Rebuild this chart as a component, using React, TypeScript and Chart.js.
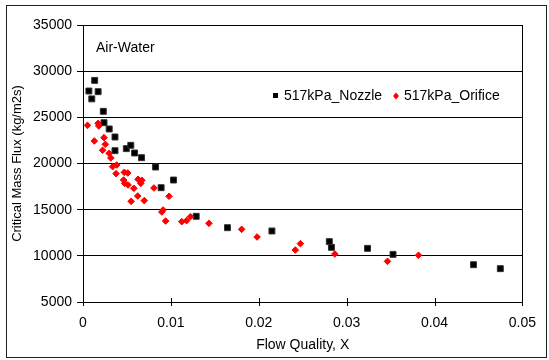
import React, { useEffect, useRef } from "react";
import { Chart, registerables } from "chart.js";

Chart.register(...registerables);

const nozzleX = [0.00067, 0.00133, 0.0010, 0.00172, 0.00231, 0.00239, 0.00298, 0.00364, 0.00364, 0.00493, 0.00544, 0.00587, 0.00666, 0.00826, 0.00889, 0.0103, 0.01288, 0.01644, 0.0215, 0.02803, 0.02827, 0.03238, 0.03528, 0.04444, 0.04749];
const nozzleY = [27850, 29000, 27000, 27780, 25650, 24420, 23740, 22870, 21390, 21610, 21970, 21140, 20630, 19620, 17380, 18210, 14280, 13050, 12690, 11540, 10920, 10810, 10160, 9040, 8610];

const orificeX = [0.00051, 0.00129, 0.00172, 0.0018, 0.00239, 0.00254, 0.00223, 0.00298, 0.00317, 0.00337, 0.00384, 0.00376, 0.0047, 0.00509, 0.00462, 0.00474, 0.00513, 0.00579, 0.00626, 0.0067, 0.00658, 0.00548, 0.00623, 0.00697, 0.00807, 0.00979, 0.00897, 0.00912, 0.0094, 0.01124, 0.01179, 0.01222, 0.01433, 0.01805, 0.01981, 0.02416, 0.02474, 0.02866, 0.03465, 0.03818];
const orificeY = [24130, 22440, 24350, 24060, 22800, 22080, 21430, 21100, 20600, 19660, 19840, 18900, 19040, 18970, 18210, 17850, 17670, 17310, 18290, 18180, 17850, 15900, 16480, 15980, 17350, 16450, 14750, 14970, 13770, 13700, 13810, 14240, 13520, 12870, 12040, 10630, 11320, 10200, 9400, 10060];

const xTicks = [0, 0.01, 0.02, 0.03, 0.04, 0.05];
const yTicks = [5000, 10000, 15000, 20000, 25000, 30000, 35000];

const seriesNames = ["517kPa_Nozzle", "517kPa_Orifice"];
const annotationText = "Air-Water";
const xTitle = "Flow Quality, X";
const yTitle = "Critical Mass Flux (kg/m2s)";

const FONT = "'Liberation Sans', Arial, sans-serif";

const decorPlugin = {
  id: "decor",
  beforeDraw(chart: any) {
    const ctx = chart.ctx;
    ctx.save();
    ctx.fillStyle = "#fff";
    ctx.fillRect(0, 0, chart.width, chart.height);
    ctx.strokeStyle = "#222";
    ctx.lineWidth = 1;
    ctx.strokeRect(6.5, 5.5, 540, 352);
    ctx.restore();
  },
  afterDraw(chart: any) {
    const ctx = chart.ctx;
    const area = chart.chartArea;
    const xs = chart.scales.x;
    ctx.save();
    ctx.strokeStyle = "#000";
    ctx.lineWidth = 1;
    ctx.beginPath();
    ctx.moveTo(Math.round(area.right) + 0.5, area.top);
    ctx.lineTo(Math.round(area.right) + 0.5, area.bottom + 4);
    ctx.stroke();
    xTicks.forEach((v) => {
      const px = Math.round(xs.getPixelForValue(v)) + 0.5;
      ctx.beginPath();
      ctx.moveTo(px, area.bottom - 4);
      ctx.lineTo(px, area.bottom + 4);
      ctx.stroke();
    });
    ctx.fillStyle = "#000";
    ctx.font = "14px " + FONT;
    ctx.textBaseline = "middle";
    ctx.textAlign = "left";
    ctx.fillText(annotationText, 96, 48);
    const ly = 96;
    ctx.fillStyle = "#000";
    ctx.fillRect(273, ly - 3, 5, 5);
    ctx.fillText(seriesNames[0], 284, ly);
    ctx.fillStyle = "#ff0000";
    ctx.beginPath();
    ctx.moveTo(396, ly - 3.5);
    ctx.lineTo(399, ly);
    ctx.lineTo(396, ly + 3.5);
    ctx.lineTo(393, ly);
    ctx.closePath();
    ctx.fill();
    ctx.fillStyle = "#000";
    ctx.fillText(seriesNames[1], 404, ly);
    ctx.restore();
  },
};

export default function App() {
  const ref = useRef<HTMLCanvasElement>(null);
  useEffect(() => {
    if (!ref.current) return;
    const chart = new Chart(ref.current, {
      type: "scatter",
      data: {
        datasets: [
          {
            label: seriesNames[0],
            data: nozzleX.map((x, i) => ({ x, y: nozzleY[i] })),
            pointStyle: "rect",
            pointRadius: 4.2,
            backgroundColor: "#000",
            borderColor: "#333",
            borderWidth: 1,
            order: 2,
          },
          {
            label: seriesNames[1],
            data: orificeX.map((x, i) => ({ x, y: orificeY[i] })),
            pointStyle: "rectRot",
            pointRadius: 3.3,
            backgroundColor: "#ff0000",
            borderColor: "#ff0000",
            borderWidth: 1,
            order: 1,
          },
        ],
      },
      options: {
        responsive: false,
        animation: false,
        devicePixelRatio: 1,
        layout: { padding: { left: 0, top: 25, right: 20, bottom: 0 } },
        plugins: {
          legend: { display: false },
          tooltip: { enabled: false },
        },
        scales: {
          x: {
            type: "linear",
            min: 0,
            max: 0.05,
            afterFit: (s: any) => {
              s.height = 58;
            },
            afterBuildTicks: (s: any) => {
              s.ticks = xTicks.map((v) => ({ value: v }));
            },
            ticks: {
              color: "#000",
              font: { family: FONT, size: 14 },
              padding: 13,
              maxRotation: 0,
              autoSkip: false,
              callback: (v: any) => (v === 0 ? "0" : Number(v).toFixed(2)),
            },
            grid: { display: false, drawTicks: false },
            border: { display: true, color: "#000", width: 1 },
            title: {
              display: true,
              text: xTitle,
              color: "#000",
              font: { family: FONT, size: 14 },
              padding: { top: 0, bottom: 6 },
            },
          },
          y: {
            type: "linear",
            min: 5000,
            max: 35000,
            afterFit: (s: any) => {
              s.width = 83;
            },
            afterBuildTicks: (s: any) => {
              s.ticks = yTicks.map((v) => ({ value: v }));
            },
            ticks: {
              color: "#000",
              font: { family: FONT, size: 14 },
              padding: 5,
              autoSkip: false,
              callback: (v: any) => String(v),
            },
            grid: { color: "#000", lineWidth: 1, drawTicks: true, tickLength: 6 },
            border: { display: true, color: "#000", width: 1 },
            title: {
              display: true,
              text: yTitle,
              color: "#000",
              font: { family: FONT, size: 13 },
              padding: { top: 10, bottom: 0 },
            },
          },
        },
      },
      plugins: [decorPlugin],
    });
    return () => chart.destroy();
  }, []);
  return (
    <div style={{ position: "absolute", left: 0, top: 0, width: 549, height: 360 }}>
      <canvas ref={ref} width={549} height={360} style={{ display: "block" }} />
    </div>
  );
}
